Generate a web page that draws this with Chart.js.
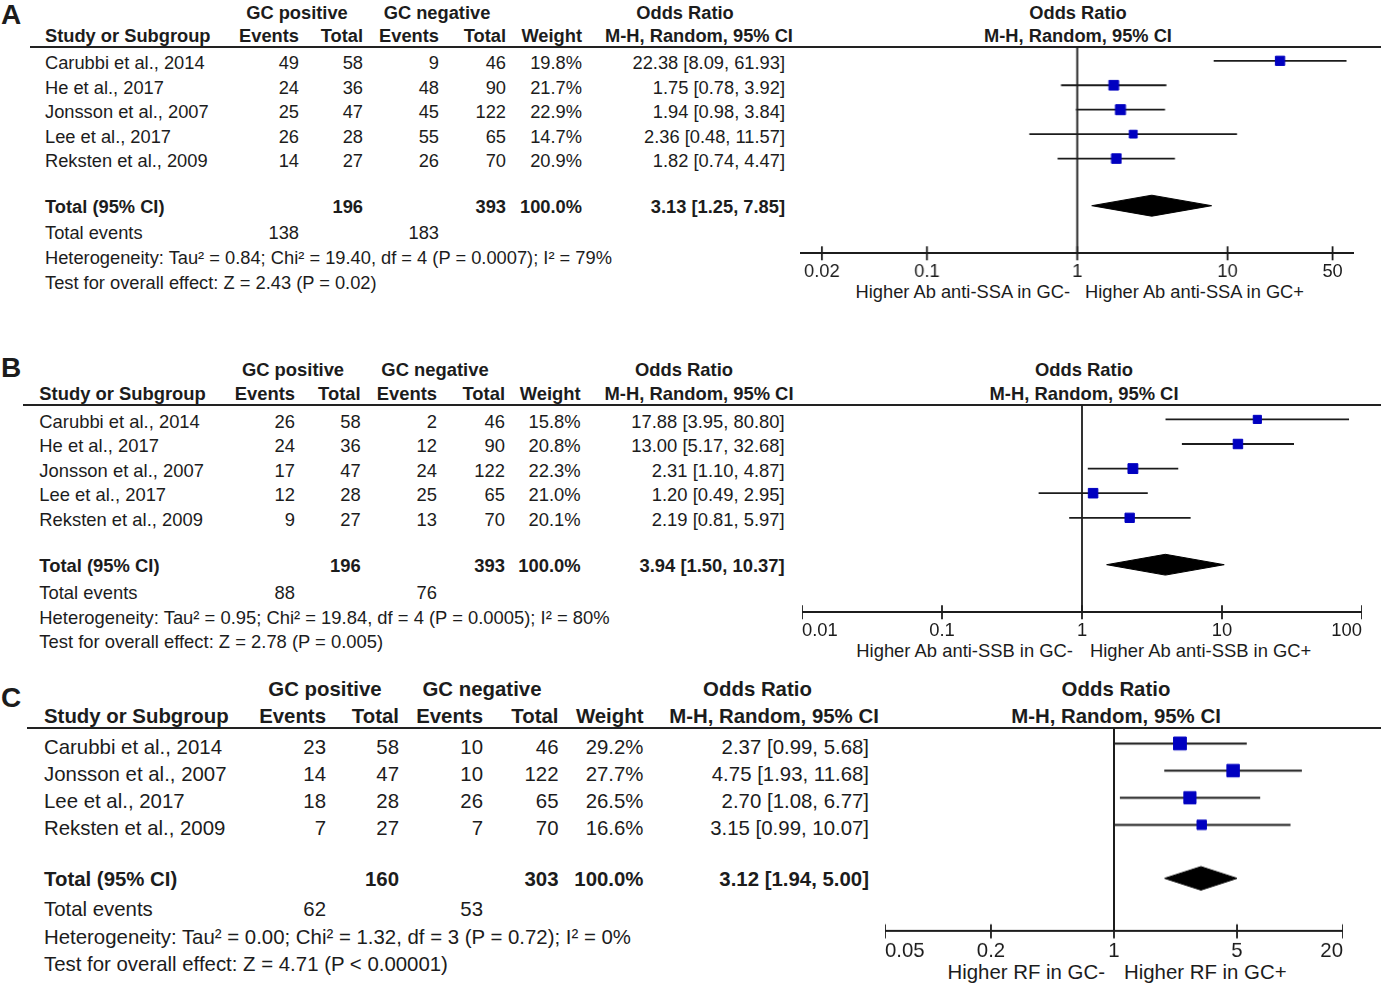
<!DOCTYPE html>
<html lang="en">
<head>
<meta charset="UTF-8">
<title>Forest plots</title>
<script src="https://cdn.jsdelivr.net/npm/chart.js@4.4.1/dist/chart.umd.min.js"></script>
<style>
  body { margin: 0; background: #fff; }
  #page { position: relative; width: 1381px; height: 987px; overflow: hidden;
          font-family: "Liberation Sans", Arial, sans-serif; color: #1c1c1c; }
  .t { position: absolute; white-space: nowrap; line-height: 1; }
  .b { font-weight: bold; }
  .rule { position: absolute; height: 2px; background: #222; }
  .plot { position: absolute; }
</style>
</head>
<body>
<div id="page"></div>
<script>
// ---- Panel A: anti-SSA ----
const studiesA = ['Carubbi et al., 2014', 'He et al., 2017', 'Jonsson et al., 2007', 'Lee et al., 2017', 'Reksten et al., 2009'];
const posEventsA = [49, 24, 25, 26, 14];
const posTotalA = [58, 36, 47, 28, 27];
const negEventsA = [9, 48, 45, 55, 26];
const negTotalA = [46, 90, 122, 65, 70];
const weightA = [19.8, 21.7, 22.9, 14.7, 20.9];
const orA = [22.38, 1.75, 1.94, 2.36, 1.82];
const lowA = [8.09, 0.78, 0.98, 0.48, 0.74];
const highA = [61.93, 3.92, 3.84, 11.57, 4.47];
const pooledA = [3.13, 1.25, 7.85];
const hetA = 'Heterogeneity: Tau² = 0.84; Chi² = 19.40, df = 4 (P = 0.0007); I² = 79%';
const testA = 'Test for overall effect: Z = 2.43 (P = 0.02)';
const ticksA = [0.02, 0.1, 1, 10, 50];
const tickLabelsA = ['0.02', '0.1', '1', '10', '50'];
const favoursA = ['Higher Ab anti-SSA in GC-', 'Higher Ab anti-SSA in GC+'];

// ---- Panel B: anti-SSB ----
const studiesB = ['Carubbi et al., 2014', 'He et al., 2017', 'Jonsson et al., 2007', 'Lee et al., 2017', 'Reksten et al., 2009'];
const posEventsB = [26, 24, 17, 12, 9];
const posTotalB = [58, 36, 47, 28, 27];
const negEventsB = [2, 12, 24, 25, 13];
const negTotalB = [46, 90, 122, 65, 70];
const weightB = [15.8, 20.8, 22.3, 21.0, 20.1];
const orB = [17.88, 13.00, 2.31, 1.20, 2.19];
const lowB = [3.95, 5.17, 1.10, 0.49, 0.81];
const highB = [80.80, 32.68, 4.87, 2.95, 5.97];
const pooledB = [3.94, 1.50, 10.37];
const hetB = 'Heterogeneity: Tau² = 0.95; Chi² = 19.84, df = 4 (P = 0.0005); I² = 80%';
const testB = 'Test for overall effect: Z = 2.78 (P = 0.005)';
const ticksB = [0.01, 0.1, 1, 10, 100];
const tickLabelsB = ['0.01', '0.1', '1', '10', '100'];
const favoursB = ['Higher Ab anti-SSB in GC-', 'Higher Ab anti-SSB in GC+'];

// ---- Panel C: RF ----
const studiesC = ['Carubbi et al., 2014', 'Jonsson et al., 2007', 'Lee et al., 2017', 'Reksten et al., 2009'];
const posEventsC = [23, 14, 18, 7];
const posTotalC = [58, 47, 28, 27];
const negEventsC = [10, 10, 26, 7];
const negTotalC = [46, 122, 65, 70];
const weightC = [29.2, 27.7, 26.5, 16.6];
const orC = [2.37, 4.75, 2.70, 3.15];
const lowC = [0.99, 1.93, 1.08, 0.99];
const highC = [5.68, 11.68, 6.77, 10.07];
const pooledC = [3.12, 1.94, 5.00];
const hetC = 'Heterogeneity: Tau² = 0.00; Chi² = 1.32, df = 3 (P = 0.72); I² = 0%';
const testC = 'Test for overall effect: Z = 4.71 (P < 0.00001)';
const ticksC = [0.05, 0.2, 1, 5, 20];
const tickLabelsC = ['0.05', '0.2', '1', '5', '20'];
const favoursC = ['Higher RF in GC-', 'Higher RF in GC+'];

const INK = '#1c1c1c';
const BLUE = '#0000c0';
const page = document.getElementById('page');

function text(str, x, cy, fs, align, bold) {
  const el = document.createElement('div');
  el.className = 't' + (bold ? ' b' : '');
  el.textContent = str;
  el.style.fontSize = fs + 'px';
  el.style.left = x + 'px';
  el.style.top = (cy - 0.49 * fs) + 'px';
  if (align === 'right') el.style.transform = 'translateX(-100%)';
  else if (align === 'center') el.style.transform = 'translateX(-50%)';
  page.appendChild(el);
}

const sum = arr => arr.reduce((a, b) => a + b, 0);
const ci = (o, l, h) => `${o.toFixed(2)} [${l.toFixed(2)}, ${h.toFixed(2)}]`;

const panels = [
  { letter: 'A', letterY: 15, fs: 18.3,
    studies: studiesA, pe: posEventsA, pt: posTotalA, ne: negEventsA, nt: negTotalA,
    weight: weightA, or: orA, low: lowA, high: highA, pooled: pooledA, het: hetA, test: testA,
    ticks: ticksA, tickLabels: tickLabelsA, favours: favoursA,
    head1Y: 12.5, head2Y: 36, ruleX: 30, ruleY: 47,
    rowY0: 63.3, rowStep: 24.45, totalY: 206.7, totEvY: 233.3, hetY: 257.7, testY: 282.7,
    col: { study: 45, pe: 299, pt: 363, ne: 439, nt: 506, w: 582, or: 785 },
    gcPos: 297, gcNeg: 437, orHead: 685, mhHead: 699, plotHead: 1078,
    oneX: 1076.7, decade: 150, xmin: 0.0143, xmax: 70, axisY: 253.3,
    diamondH: 10.5, sqShift: -2.5, sizeK: 2.3, lineW: 1.8,
    favY: 292, favL: 1070, favR: 1085, align: 'center' },
  { letter: 'B', letterY: 368, fs: 18.4,
    studies: studiesB, pe: posEventsB, pt: posTotalB, ne: negEventsB, nt: negTotalB,
    weight: weightB, or: orB, low: lowB, high: highB, pooled: pooledB, het: hetB, test: testB,
    ticks: ticksB, tickLabels: tickLabelsB, favours: favoursB,
    head1Y: 370, head2Y: 394.3, ruleX: 23, ruleY: 405,
    rowY0: 421.7, rowStep: 24.6, totalY: 565.7, totEvY: 593.3, hetY: 618.3, testY: 641.7,
    col: { study: 39.3, pe: 295, pt: 360.7, ne: 437, nt: 505, w: 580.6, or: 784.7 },
    gcPos: 293, gcNeg: 435, orHead: 684, mhHead: 699, plotHead: 1084,
    oneX: 1081.7, decade: 140, xmin: 0.01, xmax: 100, axisY: 612.3,
    diamondH: 10.4, sqShift: -2.3, sizeK: 2.3, lineW: 1.8,
    favY: 651, favL: 1073, favR: 1090, align: 'inner' },
  { letter: 'C', letterY: 698, fs: 20.4,
    studies: studiesC, pe: posEventsC, pt: posTotalC, ne: negEventsC, nt: negTotalC,
    weight: weightC, or: orC, low: lowC, high: highC, pooled: pooledC, het: hetC, test: testC,
    ticks: ticksC, tickLabels: tickLabelsC, favours: favoursC,
    head1Y: 689, head2Y: 716, ruleX: 27, ruleY: 728.3,
    rowY0: 746.7, rowStep: 27, totalY: 879, totEvY: 909.3, hetY: 936.7, testY: 964,
    col: { study: 44, pe: 326, pt: 399, ne: 483, nt: 558.5, w: 643.5, or: 869 },
    gcPos: 325, gcNeg: 482, orHead: 757.5, mhHead: 774, plotHead: 1116,
    oneX: 1114.3, decade: 176, xmin: 0.05, xmax: 20, axisY: 930.7,
    diamondH: 11.7, sqShift: -3, sizeK: 2.55, lineW: 2,
    favY: 972, favL: 1105, favR: 1124, align: 'inner' }
];

panels.forEach(p => {
  const fs = p.fs;
  const c = p.col;

  // table
  text(p.letter, 1, p.letterY, 28, 'left', true);
  text('GC positive', p.gcPos, p.head1Y, fs, 'center', true);
  text('GC negative', p.gcNeg, p.head1Y, fs, 'center', true);
  text('Odds Ratio', p.orHead, p.head1Y, fs, 'center', true);
  text('Odds Ratio', p.plotHead, p.head1Y, fs, 'center', true);
  text('Study or Subgroup', c.study, p.head2Y, fs, 'left', true);
  text('Events', c.pe, p.head2Y, fs, 'right', true);
  text('Total', c.pt, p.head2Y, fs, 'right', true);
  text('Events', c.ne, p.head2Y, fs, 'right', true);
  text('Total', c.nt, p.head2Y, fs, 'right', true);
  text('Weight', c.w, p.head2Y, fs, 'right', true);
  text('M-H, Random, 95% CI', p.mhHead, p.head2Y, fs, 'center', true);
  text('M-H, Random, 95% CI', p.plotHead, p.head2Y, fs, 'center', true);

  const rule = document.createElement('div');
  rule.className = 'rule';
  rule.style.left = p.ruleX + 'px';
  rule.style.width = (1381 - p.ruleX) + 'px';
  rule.style.top = (p.ruleY - 1) + 'px';
  page.appendChild(rule);

  p.studies.forEach((s, i) => {
    const y = p.rowY0 + i * p.rowStep;
    text(s, c.study, y, fs, 'left');
    text(String(p.pe[i]), c.pe, y, fs, 'right');
    text(String(p.pt[i]), c.pt, y, fs, 'right');
    text(String(p.ne[i]), c.ne, y, fs, 'right');
    text(String(p.nt[i]), c.nt, y, fs, 'right');
    text(p.weight[i].toFixed(1) + '%', c.w, y, fs, 'right');
    text(ci(p.or[i], p.low[i], p.high[i]), c.or, y, fs, 'right');
  });

  text('Total (95% CI)', c.study, p.totalY, fs, 'left', true);
  text(String(sum(p.pt)), c.pt, p.totalY, fs, 'right', true);
  text(String(sum(p.nt)), c.nt, p.totalY, fs, 'right', true);
  text('100.0%', c.w, p.totalY, fs, 'right', true);
  text(ci(p.pooled[0], p.pooled[1], p.pooled[2]), c.or, p.totalY, fs, 'right', true);
  text('Total events', c.study, p.totEvY, fs, 'left');
  text(String(sum(p.pe)), c.pe, p.totEvY, fs, 'right');
  text(String(sum(p.ne)), c.ne, p.totEvY, fs, 'right');
  text(p.het, c.study, p.hetY, fs, 'left');
  text(p.test, c.study, p.testY, fs, 'left');

  text(p.favours[0], p.favL, p.favY, fs, 'right');
  text(p.favours[1], p.favR, p.favY, fs, 'left');

  // forest plot
  const left = p.oneX + p.decade * Math.log10(p.xmin);
  const width = p.decade * Math.log10(p.xmax / p.xmin);
  const scaleH = 40;
  const box = document.createElement('div');
  box.className = 'plot';
  box.style.left = left + 'px';
  box.style.top = p.ruleY + 'px';
  box.style.width = width + 'px';
  box.style.height = (p.axisY - p.ruleY + scaleH) + 'px';
  const canvas = document.createElement('canvas');
  box.appendChild(canvas);
  page.appendChild(box);

  const rowY = i => p.rowY0 + i * p.rowStep + p.sqShift;
  const datasets = [];

  datasets.push({
    data: [{ x: 1, y: p.ruleY }, { x: 1, y: p.axisY }],
    showLine: true, borderColor: INK, borderWidth: p.lineW, pointRadius: 0, order: 3
  });

  p.studies.forEach((s, i) => {
    datasets.push({
      data: [{ x: p.low[i], y: rowY(i) }, { x: p.high[i], y: rowY(i) }],
      showLine: true, borderColor: INK, borderWidth: p.lineW, pointRadius: 0, order: 2
    });
  });

  datasets.push({
    data: p.or.map((v, i) => ({ x: v, y: rowY(i) })),
    pointStyle: 'rect',
    pointRadius: p.weight.map(w => (p.sizeK * Math.sqrt(w) - 1) / (2 * Math.SQRT1_2)),
    pointBackgroundColor: BLUE, pointBorderColor: BLUE, pointBorderWidth: 1, order: 0
  });

  const ty = p.totalY - 1;
  const [po, pl, ph] = p.pooled;
  datasets.push({
    data: [{ x: pl, y: ty }, { x: po, y: ty - p.diamondH }, { x: ph, y: ty },
           { x: po, y: ty + p.diamondH }, { x: pl, y: ty }],
    showLine: true, fill: 'shape', tension: 0,
    borderColor: '#000', backgroundColor: '#000', borderWidth: 1, pointRadius: 0, order: 1
  });

  datasets.push({
    data: p.ticks.map(v => ({ x: v, y: p.axisY })),
    pointStyle: 'line', pointRotation: 90, pointRadius: 7,
    pointBorderColor: INK, pointBorderWidth: 1.8, clip: false, order: 4
  });

  new Chart(canvas, {
    type: 'scatter',
    data: { datasets },
    options: {
      responsive: true,
      maintainAspectRatio: false,
      animation: false,
      events: [],
      layout: { padding: 0, autoPadding: false },
      plugins: { legend: { display: false }, tooltip: { enabled: false } },
      scales: {
        x: {
          type: 'logarithmic',
          min: p.xmin,
          max: p.xmax,
          grid: { display: false },
          border: { display: true, color: INK, width: 2 },
          afterBuildTicks: scale => { scale.ticks = p.ticks.map(v => ({ value: v })); },
          afterFit: scale => { scale.height = scaleH; scale.paddingLeft = 0; scale.paddingRight = 0; },
          ticks: {
            autoSkip: false, maxRotation: 0, minRotation: 0,
            align: p.align, padding: 0, color: INK,
            font: { family: '"Liberation Sans", Arial, sans-serif', size: fs },
            callback: (value, index) => p.tickLabels[index]
          }
        },
        y: {
          type: 'linear',
          display: false,
          reverse: true,
          min: p.ruleY,
          max: p.axisY
        }
      }
    }
  });
});
</script>
</body>
</html>
